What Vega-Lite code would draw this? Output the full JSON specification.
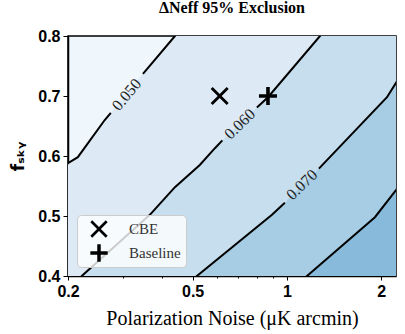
{
  "$schema": "https://vega.github.io/schema/vega-lite/v6.json",
  "width": 328,
  "height": 240,
  "autosize": {"type": "none"},
  "padding": {"left": 68, "top": 36, "right": 9, "bottom": 58},
  "title": {"text": "ΔNeff 95% Exclusion", "font": "Liberation Serif", "fontSize": 16, "fontWeight": "bold", "color": "black", "anchor": "middle", "frame": "group", "baseline": "alphabetic", "offset": -1},
  "datasets": {
    "contours": [
      {"level": 0.05, "seg": "a1", "x": 0.19, "y": 0.575},
      {"level": 0.05, "seg": "a1", "x": 0.2, "y": 0.588},
      {"level": 0.05, "seg": "a1", "x": 0.215, "y": 0.598},
      {"level": 0.05, "seg": "a1", "x": 0.262, "y": 0.66},
      {"level": 0.05, "seg": "a1", "x": 0.274, "y": 0.672},
      {"level": 0.05, "seg": "a2", "x": 0.347, "y": 0.737},
      {"level": 0.05, "seg": "a2", "x": 0.439, "y": 0.8},
      {"level": 0.05, "seg": "a2", "x": 0.527, "y": 0.852},
      {"level": 0.05, "seg": "a2", "x": 2.5, "y": 0.95},
      {"level": 0.06, "seg": "b1", "x": 0.21, "y": 0.385},
      {"level": 0.06, "seg": "b1", "x": 0.2213, "y": 0.4},
      {"level": 0.06, "seg": "b1", "x": 0.365, "y": 0.502},
      {"level": 0.06, "seg": "b1", "x": 0.439, "y": 0.548},
      {"level": 0.06, "seg": "b1", "x": 0.527, "y": 0.585},
      {"level": 0.06, "seg": "b1", "x": 0.589, "y": 0.613},
      {"level": 0.06, "seg": "b1", "x": 0.622, "y": 0.626},
      {"level": 0.06, "seg": "b2", "x": 0.802, "y": 0.681},
      {"level": 0.06, "seg": "b2", "x": 0.87, "y": 0.698},
      {"level": 0.06, "seg": "b2", "x": 1.275, "y": 0.8},
      {"level": 0.06, "seg": "b2", "x": 1.5, "y": 0.84},
      {"level": 0.06, "seg": "b2", "x": 2.5, "y": 0.95},
      {"level": 0.07, "seg": "c1", "x": 0.48, "y": 0.385},
      {"level": 0.07, "seg": "c1", "x": 0.516, "y": 0.4},
      {"level": 0.07, "seg": "c1", "x": 0.896, "y": 0.502},
      {"level": 0.07, "seg": "c1", "x": 0.985, "y": 0.522},
      {"level": 0.07, "seg": "c2", "x": 1.265, "y": 0.579},
      {"level": 0.07, "seg": "c2", "x": 2.087, "y": 0.698},
      {"level": 0.07, "seg": "c2", "x": 2.23, "y": 0.722},
      {"level": 0.07, "seg": "c2", "x": 2.5, "y": 0.762},
      {"level": 0.08, "seg": "d1", "x": 1.1, "y": 0.39},
      {"level": 0.08, "seg": "d1", "x": 1.159, "y": 0.4},
      {"level": 0.08, "seg": "d1", "x": 1.91, "y": 0.498},
      {"level": 0.08, "seg": "d1", "x": 2.23, "y": 0.543},
      {"level": 0.08, "seg": "d1", "x": 2.5, "y": 0.577}
    ],
    "labels": [
      {"level": 0.05, "x": 0.308, "y": 0.702, "text": "0.050"},
      {"level": 0.06, "x": 0.708, "y": 0.653, "text": "0.060"},
      {"level": 0.07, "x": 1.117, "y": 0.552, "text": "0.070"}
    ],
    "points": [
      {"name": "CBE", "x": 0.61, "y": 0.7},
      {"name": "Baseline", "x": 0.87, "y": 0.7}
    ]
  },
  "encoding": {
    "x": {"field": "x", "type": "quantitative", "scale": {"type": "log", "domain": [0.2, 2.23], "nice": false},
      "axis": {"title": "Polarization Noise (μK arcmin)", "values": [0.2, 0.3, 0.4, 0.5, 0.6, 0.7, 0.8, 0.9, 1, 2], "format": "~g",
        "labelExpr": "(datum.value == 0.2 || datum.value == 0.5 || datum.value == 1 || datum.value == 2) ? datum.label : ''",
        "tickSize": {"condition": {"test": "datum.value == 0.2 || datum.value == 0.5 || datum.value == 1 || datum.value == 2", "value": 4}, "value": 2},
        "labelPadding": 3, "titlePadding": 9, "labelFlush": false}},
    "y": {"field": "y", "type": "quantitative", "scale": {"domain": [0.4, 0.8], "nice": false},
      "axis": {"title": "fₛₖᵧ", "values": [0.4, 0.5, 0.6, 0.7, 0.8], "format": ".1f", "tickSize": 5, "labelPadding": 3, "titlePadding": 10, "titleFont": "DejaVu Sans", "titleFontSize": 17, "titleFontWeight": "bold", "labelFlush": false}}
  },
  "layer": [
    {"data": {"name": "contours"}, "transform": [{"filter": "datum.level == 0.05"}],
     "mark": {"type": "area", "clip": true, "color": "#dde9f5"},
     "encoding": {"y": {"field": "y", "type": "quantitative", "stack": null}, "y2": {"datum": 0.4}}},
    {"data": {"name": "contours"}, "transform": [{"filter": "datum.level == 0.06"}],
     "mark": {"type": "area", "clip": true, "color": "#c6deed"},
     "encoding": {"y": {"field": "y", "type": "quantitative", "stack": null}, "y2": {"datum": 0.4}}},
    {"data": {"name": "contours"}, "transform": [{"filter": "datum.level == 0.07"}],
     "mark": {"type": "area", "clip": true, "color": "#a6cde4"},
     "encoding": {"y": {"field": "y", "type": "quantitative", "stack": null}, "y2": {"datum": 0.4}}},
    {"data": {"name": "contours"}, "transform": [{"filter": "datum.level == 0.08"}],
     "mark": {"type": "area", "clip": true, "color": "#88bbdb"},
     "encoding": {"y": {"field": "y", "type": "quantitative", "stack": null}, "y2": {"datum": 0.4}}},
    {"data": {"name": "contours"},
     "mark": {"type": "line", "clip": true, "color": "black", "strokeWidth": 2},
     "encoding": {"detail": {"field": "seg", "type": "nominal"}}},
    {"data": {"name": "labels"},
     "mark": {"type": "text", "clip": true, "font": "Liberation Serif", "fontSize": 16, "color": "#222222", "align": "center", "baseline": "middle"},
     "encoding": {"text": {"field": "text"}, "angle": {"condition": {"test": "datum.level == 0.05", "value": -50}, "value": -44}}},
    {"data": {"name": "points"},
     "mark": {"type": "point", "filled": true, "color": "black", "opacity": 1, "size": 324, "strokeWidth": 0},
     "encoding": {"shape": {"field": "name", "type": "nominal", "sort": ["CBE", "Baseline"],
       "scale": {"domain": ["CBE", "Baseline"], "range": ["M-1,-0.78L-0.78,-1L0,-0.22L0.78,-1L1,-0.78L0.22,0L1,0.78L0.78,1L0,0.22L-0.78,1L-1,0.78L-0.22,0Z", "M-0.2,-1H0.2V-0.2H1V0.2H0.2V1H-0.2V0.2H-1V-0.2H-0.2Z"]},
       "legend": {"title": null, "orient": "bottom-left", "offset": 9}}}}
  ],
  "config": {
    "view": {"fill": "#eff6fc", "stroke": "black", "strokeWidth": 1.5},
    "axis": {"grid": false, "domainColor": "black", "domainWidth": 1.5, "tickColor": "black", "tickWidth": 1, "labelFont": "Liberation Sans", "labelFontWeight": "bold", "labelFontSize": 16, "labelColor": "black", "titleColor": "black", "titleFont": "Liberation Serif", "titleFontSize": 20, "titleFontWeight": "normal"},
    "legend": {"fillColor": "rgba(255,255,255,0.8)", "strokeColor": "#cccccc", "cornerRadius": 4, "padding": 5, "symbolOffset": 8, "labelOffset": 21, "labelFont": "Liberation Serif", "labelFontSize": 15, "labelColor": "#333333", "symbolSize": 300, "symbolFillColor": "black", "symbolStrokeColor": "black", "symbolStrokeWidth": 0, "rowPadding": 6}
  }
}
